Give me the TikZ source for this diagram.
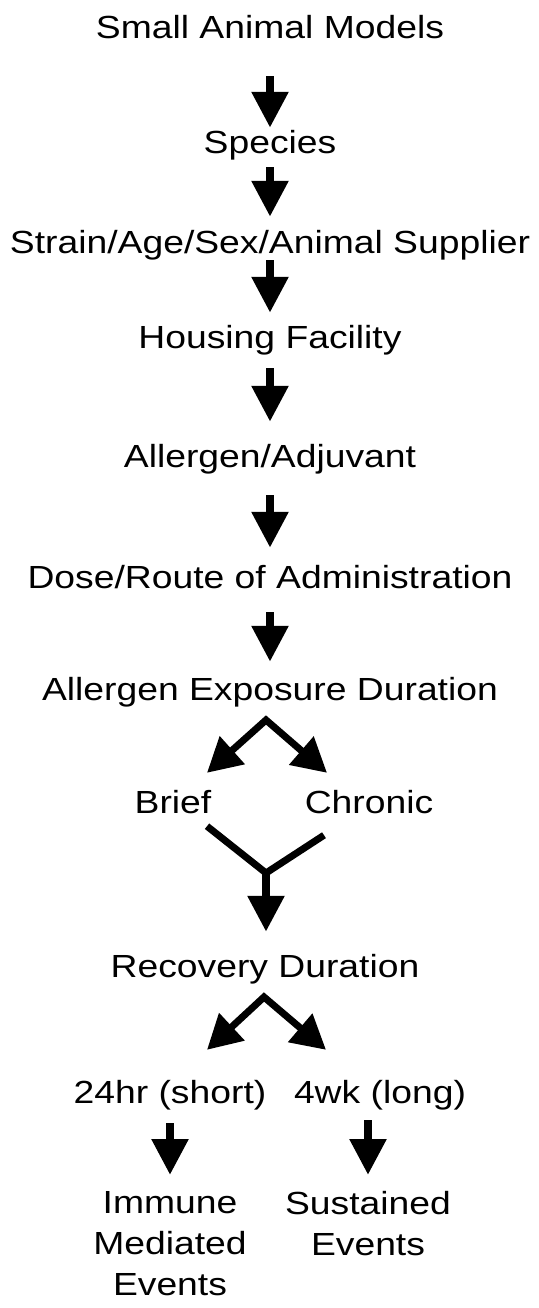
\documentclass[tikz,border=0pt]{standalone}
\usepackage{fontspec}
\setmainfont{Liberation Sans}[FakeStretch=1.165]
\usepackage{tikz}
\usetikzlibrary{arrows.meta, calc}

\tikzset{
  txt/.style={anchor=base, inner sep=0pt, text height=23pt, text depth=7pt},
  multi/.style={anchor=north, inner sep=0pt, align=center},
  arr/.style={line width=8.5pt, -{Triangle[width=35pt,length=36pt]}},
  fork/.style={line width=7pt, {Triangle[width=36pt,length=34pt]}-{Triangle[width=36pt,length=34pt]}},
  joint/.style={line width=7pt}
}

\begin{document}
\begin{tikzpicture}[x=1pt,y=1pt,font=\fontsize{32}{41}\selectfont]
\useasboundingbox (0,0) rectangle (538,-1308);

\node[txt] (models) at (270,-39) {Small Animal Models};
\node[txt] (species) at (270,-154) {Species};
\node[txt] (strain) at (270,-253) {Strain/Age/Sex/Animal Supplier};
\node[txt] (housing) at (270,-348) {Housing Facility};
\node[txt] (allergen) at (270,-467) {Allergen/Adjuvant};
\node[txt] (dose) at (270,-588) {Dose/Route of Administration};
\node[txt] (exposure) at (270,-700) {Allergen Exposure Duration};
\node[txt] (brief) at (173,-813) {Brief};
\node[txt] (chronic) at (369,-813) {Chronic};
\node[txt] (recovery) at (265,-977) {Recovery Duration};
\node[txt] (short) at (170,-1103) {24hr (short)};
\node[txt] (long) at (380,-1103) {4wk (long)};
\node[multi] (immune) at (170,-1191) {Immune\\Mediated\\Events};
\node[multi] (sustained) at (368,-1191) {Sustained\\Events};

\coordinate (split1) at (266,-720);
\coordinate (merge) at (266,-873);
\coordinate (split2) at (264,-997);

\path[arr]
(models) edge[shorten <=30pt, shorten >=3pt] (species)
(species) edge[shorten <=6pt, shorten >=13pt] (strain)
(strain) edge[shorten >=12pt] (housing)
(housing) edge[shorten <=13pt, shorten >=22pt] (allergen)
(allergen) edge[shorten <=21pt, shorten >=17pt] (dose)
(dose) edge[shorten <=17pt, shorten >=15pt] (exposure)
(short) edge[shorten <=13pt, shorten >=16pt] (immune)
;

\draw[fork] ([shift={(34,17)}]brief.north) -- (split1) -- ([shift={(-42,17)}]chronic.north);
\draw[joint] ([shift={(34,-6)}]brief.south) -- (merge) -- ([shift={(-45,-15)}]chronic.south);
\draw[arr, shorten >=22pt] (merge) -- (merge |- recovery.north);
\draw[fork] ([shift={(37,30)}]short.north) -- (split2) -- ([shift={(-54,30)}]long.north);
\draw[arr, shorten <=10pt, shorten >=16pt] (sustained.north |- long.south) -- (sustained.north);
\end{tikzpicture}
\end{document}
